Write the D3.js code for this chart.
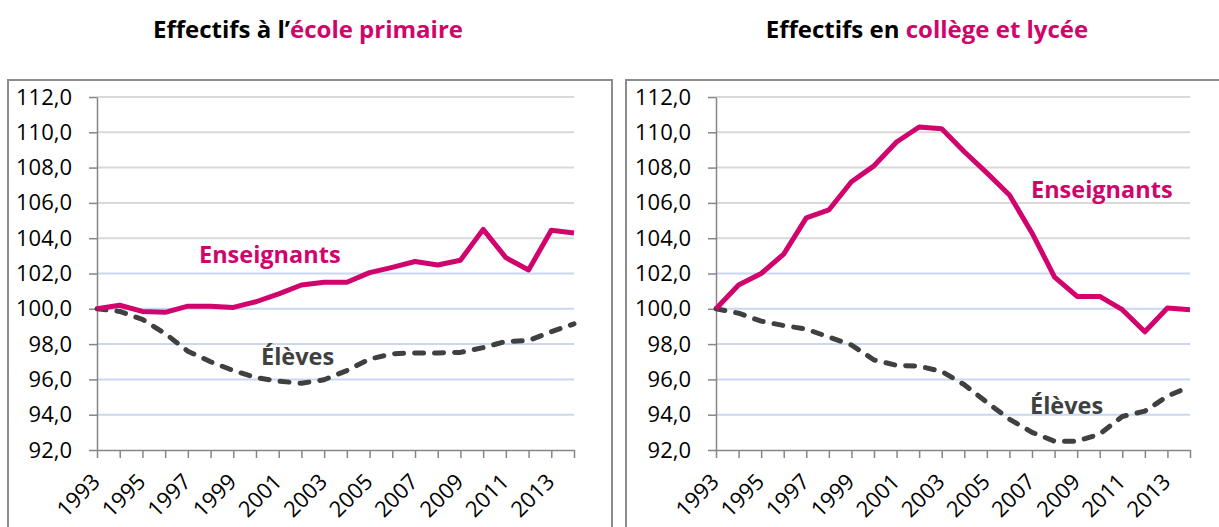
<!DOCTYPE html>
<html>
<head>
<meta charset="utf-8">
<script src="https://cdn.jsdelivr.net/npm/d3@7/dist/d3.min.js"></script>
<style>
  body { margin: 0; background: #fff; }
  svg { display: block; font-family: "Open Sans", "Noto Sans", sans-serif; }
</style>
</head>
<body>
<svg id="chart" width="1219" height="527"></svg>
<script>
// categories
const years = ["1993","1994","1995","1996","1997","1998","1999","2000","2001","2002","2003",
               "2004","2005","2006","2007","2008","2009","2010","2011","2012","2013","2014"];
const xLabels = ["1993","1995","1997","1999","2001","2003","2005","2007","2009","2011","2013"];
const yTicks = [92, 94, 96, 98, 100, 102, 104, 106, 108, 110, 112];

// école primaire (base 100 en 1993)
const primEnseignants = [100.0, 100.2, 99.85, 99.8, 100.15, 100.15, 100.08, 100.4, 100.85, 101.35, 101.5,
                         101.5, 102.05, 102.35, 102.68, 102.48, 102.75, 104.5, 102.9, 102.2, 104.45, 104.3];
const primEleves = [100.0, 99.85, 99.4, 98.6, 97.6, 97.0, 96.5, 96.1, 95.9, 95.78, 95.98,
                    96.5, 97.15, 97.45, 97.5, 97.5, 97.53, 97.8, 98.15, 98.2, 98.7, 99.15];

// collège et lycée
const secEnseignants = [100.0, 101.35, 102.0, 103.1, 105.15, 105.6, 107.2, 108.1, 109.45, 110.3, 110.2,
                        108.9, 107.7, 106.45, 104.3, 101.8, 100.7, 100.7, 99.95, 98.7, 100.05, 99.95];
const secEleves = [100.0, 99.75, 99.3, 99.05, 98.85, 98.4, 97.95, 97.1, 96.8, 96.75, 96.45,
                   95.7, 94.7, 93.75, 93.0, 92.5, 92.5, 92.9, 93.9, 94.2, 95.05, 95.6];

const pink = "#d0046c";
const dark = "#404040";
const svg = d3.select("#chart");

function drawPanel(p) {
  const g = svg.append("g");

  // cadre
  g.append("rect")
    .attr("x", p.frameX).attr("y", 80)
    .attr("width", 604).attr("height", 480)
    .attr("fill", "none").attr("stroke", "#8c8c8c").attr("stroke-width", 2);

  // titre
  const t = g.append("text")
    .attr("x", p.titleX).attr("y", 38)
    .attr("text-anchor", "middle")
    .attr("font-size", 24).attr("font-weight", 700);
  t.append("tspan").attr("fill", "#000").text(p.title[0]);
  t.append("tspan").attr("fill", pink).text(p.title[1]);

  const x = d3.scalePoint().domain(years).range([p.left, p.left + p.width]);
  const y = d3.scaleLinear().domain([92, 112]).range([450, 97]);

  // grille
  g.append("g").selectAll("line")
    .data(yTicks.filter(d => d > 92))
    .join("line")
    .attr("x1", p.left).attr("x2", p.left + p.width)
    .attr("y1", d => y(d)).attr("y2", d => y(d))
    .attr("stroke", d => d <= 102 ? "#cad7ee" : "#d9d9d9")
    .attr("stroke-width", 2);

  // axe vertical
  const yAxis = g.append("g")
    .attr("transform", `translate(${p.left},0)`)
    .call(d3.axisLeft(y).tickValues(yTicks).tickSize(8).tickSizeOuter(0).tickPadding(17)
      .tickFormat(d => d3.format(".1f")(d).replace(".", ",")));
  yAxis.selectAll("text").attr("font-size", 22).attr("fill", "#000")
    .attr("font-family", "'Open Sans', sans-serif");

  // axe horizontal
  const xAxis = g.append("g")
    .attr("transform", "translate(0,450)")
    .call(d3.axisBottom(x).tickValues(years).tickSize(8).tickSizeOuter(0)
      .tickFormat(d => xLabels.includes(d) ? d : ""));
  xAxis.selectAll("text")
    .attr("font-size", 22).attr("fill", "#000")
    .attr("font-family", "'Open Sans', sans-serif")
    .attr("text-anchor", "end")
    .attr("dy", null)
    .attr("y", 0)
    .attr("transform", "translate(4,33) rotate(-45)");

  svg.selectAll(".domain, .tick line").attr("stroke", "#868686").attr("stroke-width", 1.5);

  const line = d3.line().x((d, i) => x(years[i])).y(d => y(d));

  g.append("path").datum(p.eleves)
    .attr("d", line).attr("fill", "none")
    .attr("stroke", dark).attr("stroke-width", 5)
    .attr("stroke-dasharray", "9,11").attr("stroke-linecap", "round")
    .attr("stroke-linejoin", "round");

  g.append("path").datum(p.enseignants)
    .attr("d", line).attr("fill", "none")
    .attr("stroke", pink).attr("stroke-width", 5)
    .attr("stroke-linejoin", "round");

  g.append("text").attr("x", p.ensLabel[0]).attr("y", p.ensLabel[1])
    .attr("font-size", 23.5).attr("font-weight", 700).attr("fill", pink)
    .text("Enseignants");
  g.append("text").attr("x", p.eleLabel[0]).attr("y", p.eleLabel[1])
    .attr("font-size", 23.5).attr("font-weight", 700).attr("fill", dark)
    .text("Élèves");
}

drawPanel({
  frameX: 8, left: 97, width: 477, titleX: 308,
  title: ["Effectifs à l’", "école primaire"],
  enseignants: primEnseignants, eleves: primEleves,
  ensLabel: [199, 263], eleLabel: [261, 365]
});

drawPanel({
  frameX: 626, left: 716, width: 474, titleX: 927,
  title: ["Effectifs en ", "collège et lycée"],
  enseignants: secEnseignants, eleves: secEleves,
  ensLabel: [1031, 198], eleLabel: [1030, 414]
});
</script>
</body>
</html>
